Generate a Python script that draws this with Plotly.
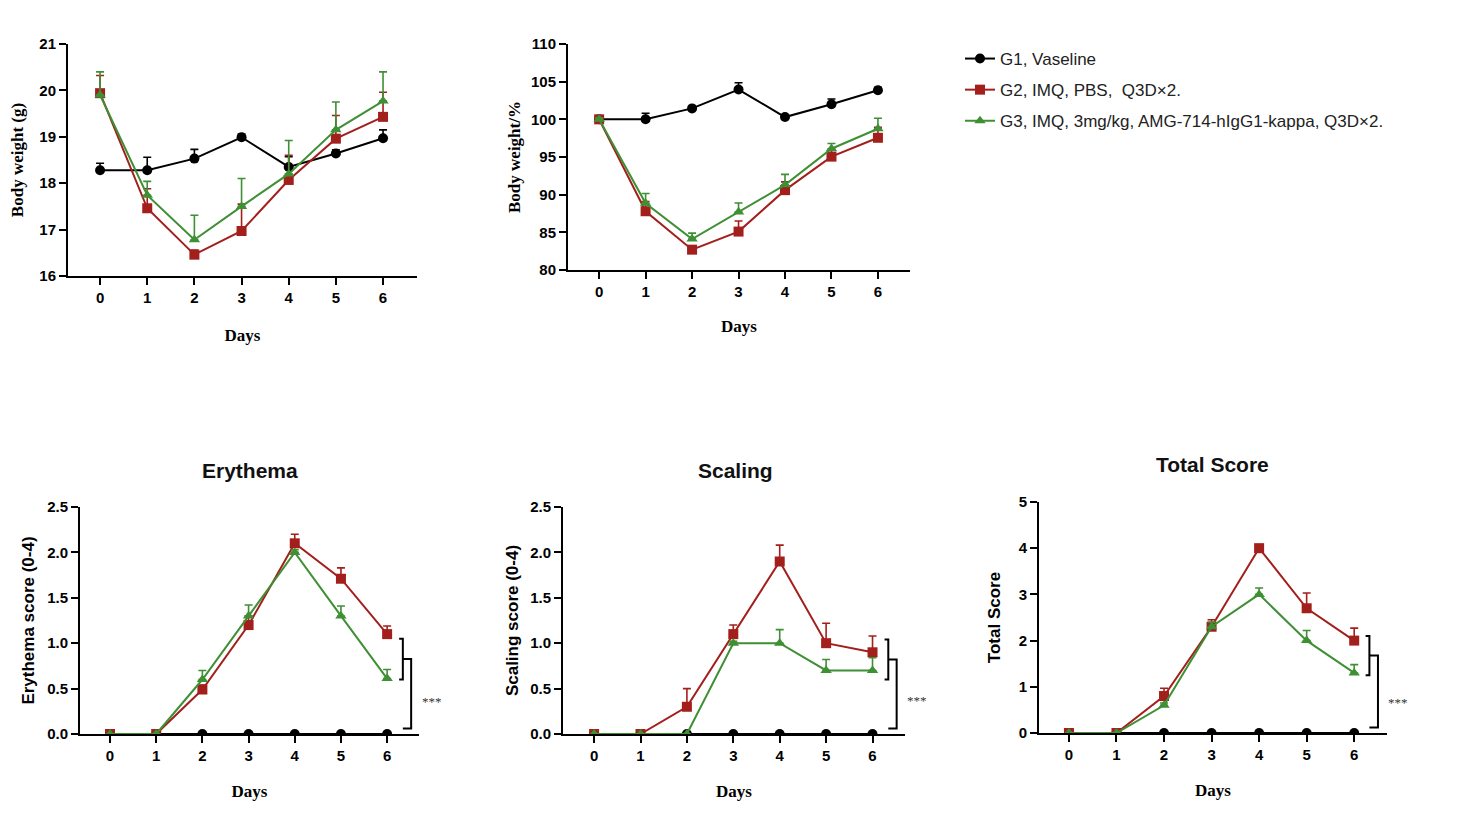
import plotly.graph_objects as go

days = [0, 1, 2, 3, 4, 5, 6]

group_names = ['G1, Vaseline',
               'G2, IMQ, PBS,  Q3D×2.',
               'G3, IMQ, 3mg/kg, AMG-714-hIgG1-kappa, Q3D×2.']

# body weight (g)
bw_g1 = [18.28, 18.28, 18.53, 18.99, 18.35, 18.64, 18.97]
bw_g1_err = [0.15, 0.28, 0.2, 0.07, 0.22, 0.08, 0.18]
bw_g2 = [19.94, 17.46, 16.46, 16.97, 18.07, 18.96, 19.43]
bw_g2_err = [0.38, 0.42, 0.1, 0.58, 0.53, 0.5, 0.53]
bw_g3 = [19.9, 17.74, 16.78, 17.5, 18.2, 19.15, 19.77]
bw_g3_err = [0.5, 0.3, 0.53, 0.6, 0.72, 0.6, 0.63]

# body weight (%)
bwp_g1 = [100.0, 100.0, 101.45, 103.95, 100.3, 102.0, 103.85]
bwp_g1_err = [0.2, 0.8, 0.2, 0.9, 0.2, 0.7, 0.4]
bwp_g2 = [100.0, 87.8, 82.7, 85.1, 90.6, 95.05, 97.55]
bwp_g2_err = [0.2, 1.3, 0.3, 1.4, 1.1, 0.9, 1.4]
bwp_g3 = [100.0, 88.85, 84.1, 87.7, 91.3, 96.1, 98.75]
bwp_g3_err = [0.2, 1.3, 0.8, 1.2, 1.4, 0.7, 1.4]

# erythema score
ery_g1 = [0, 0, 0, 0, 0, 0, 0]
ery_g2 = [0, 0, 0.49, 1.2, 2.1, 1.71, 1.1]
ery_g2_err = [0, 0, 0.05, 0.1, 0.1, 0.12, 0.09]
ery_g3 = [0, 0, 0.6, 1.3, 2.0, 1.3, 0.61]
ery_g3_err = [0, 0, 0.1, 0.12, 0.03, 0.11, 0.1]

# scaling score
sca_g1 = [0, 0, 0, 0, 0, 0, 0]
sca_g2 = [0, 0, 0.3, 1.1, 1.9, 1.0, 0.9]
sca_g2_err = [0, 0, 0.2, 0.1, 0.18, 0.22, 0.18]
sca_g3 = [0, 0, 0, 1.0, 1.0, 0.7, 0.7]
sca_g3_err = [0, 0, 0, 0.02, 0.15, 0.12, 0.14]

# total score
tot_g1 = [0, 0, 0, 0, 0, 0, 0]
tot_g2 = [0, 0, 0.8, 2.3, 4.0, 2.7, 2.0]
tot_g2_err = [0, 0, 0.17, 0.15, 0.08, 0.33, 0.27]
tot_g3 = [0, 0, 0.6, 2.3, 3.0, 2.0, 1.3]
tot_g3_err = [0, 0, 0.05, 0.1, 0.14, 0.22, 0.18]

BLACK = '#000000'
RED = '#a21f1c'
GREEN = '#3f8f34'
colors = [BLACK, RED, GREEN]
symbols = ['circle', 'square', 'triangle-up']

fig = go.Figure()


def add_group(idx, y, err, axis, show):
    xa = 'x' if axis == 1 else 'x%d' % axis
    ya = 'y' if axis == 1 else 'y%d' % axis
    err_y = None
    if err is not None:
        err_y = dict(type='data', symmetric=False, array=err,
                     arrayminus=[0] * len(err), color=colors[idx],
                     thickness=1.6, width=4)
    fig.add_trace(go.Scatter(
        x=days, y=y, mode='lines+markers', name=group_names[idx],
        legendgroup='g%d' % idx, showlegend=show,
        line=dict(color=colors[idx], width=2),
        marker=dict(symbol=symbols[idx], size=10, color=colors[idx]),
        error_y=err_y, xaxis=xa, yaxis=ya))


panels = [
    (1, [bw_g1, bw_g2, bw_g3], [bw_g1_err, bw_g2_err, bw_g3_err]),
    (2, [bwp_g1, bwp_g2, bwp_g3], [bwp_g1_err, bwp_g2_err, bwp_g3_err]),
    (3, [ery_g1, ery_g2, ery_g3], [None, ery_g2_err, ery_g3_err]),
    (4, [sca_g1, sca_g2, sca_g3], [None, sca_g2_err, sca_g3_err]),
    (5, [tot_g1, tot_g2, tot_g3], [None, tot_g2_err, tot_g3_err]),
]
for ax, ys, errs in panels:
    for i in range(3):
        add_group(i, ys[i], errs[i], ax, ax == 1)

W, H = 1458, 820
OFF = 8  # page body margin


def px(a):
    return (a - OFF) / W


def py(a):
    return 1 - (a - OFF) / H


def xd(a, b):
    return [px(a), px(b)]


def yd(top, bottom):
    return [py(bottom), py(top)]


tickfont = dict(family='Liberation Sans, Arial', size=15, color='black', weight='bold')
serif_title = dict(family='Liberation Serif, Times New Roman', size=17, color='black')
sans_title = dict(family='Liberation Sans, Arial', size=17, color='black')

common_x = dict(showline=True, linecolor='black', linewidth=2, ticks='outside',
                ticklen=7, tickwidth=2, tickcolor='black', tickvals=days,
                showgrid=False, zeroline=False, tickfont=tickfont, automargin=False)
common_y = dict(showline=True, linecolor='black', linewidth=2, ticks='outside',
                ticklen=7, tickwidth=2, tickcolor='black', automargin=False,
                showgrid=False, zeroline=False, tickfont=tickfont)

layout = dict(
    template='none',
    width=W, height=H, margin=dict(l=0, r=0, t=0, b=0, pad=0),
    paper_bgcolor='white', plot_bgcolor='white',
    xaxis=dict(common_x, domain=xd(68, 417), range=[-0.68, 6.72], anchor='y',
               title=dict(text='<b>Days</b>', font=serif_title, standoff=24)),
    yaxis=dict(common_y, domain=yd(44, 276), range=[16, 21], dtick=1, anchor='x',
               title=dict(text='<b>Body weight (g)</b>', font=serif_title, standoff=12)),
    xaxis2=dict(common_x, domain=xd(568, 910), range=[-0.67, 6.69], anchor='y2',
                title=dict(text='<b>Days</b>', font=serif_title, standoff=21)),
    yaxis2=dict(common_y, domain=yd(44, 270), range=[80, 110], dtick=5, anchor='x2',
                title=dict(text='<b>Body weight/%</b>', font=serif_title, standoff=6)),
    xaxis3=dict(common_x, domain=xd(80, 419), range=[-0.65, 6.69], anchor='y3',
                title=dict(text='<b>Days</b>', font=serif_title, standoff=22)),
    yaxis3=dict(common_y, domain=yd(507, 734), range=[0, 2.5], dtick=0.5,
                tickformat='.1f', anchor='x3',
                title=dict(text='<b>Erythema score (0-4)</b>', font=sans_title, standoff=8)),
    xaxis4=dict(common_x, domain=xd(563, 905), range=[-0.67, 6.70], anchor='y4',
                title=dict(text='<b>Days</b>', font=serif_title, standoff=22)),
    yaxis4=dict(common_y, domain=yd(507, 734), range=[0, 2.5], dtick=0.5,
                tickformat='.1f', anchor='x4',
                title=dict(text='<b>Scaling score (0-4)</b>', font=sans_title, standoff=7)),
    xaxis5=dict(common_x, domain=xd(1039, 1387), range=[-0.63, 6.69], anchor='y5',
                title=dict(text='<b>Days</b>', font=serif_title, standoff=22)),
    yaxis5=dict(common_y, domain=yd(502, 733), range=[0, 5], dtick=1, anchor='x5',
                title=dict(text='<b>Total Score</b>', font=sans_title, standoff=14)),
    legend=dict(x=px(960), y=py(41), xanchor='left', yanchor='top',
                font=dict(family='Liberation Sans, Arial', size=17, color='#222'),
                tracegroupgap=6, itemwidth=30, bgcolor='rgba(0,0,0,0)'),
    showlegend=True,
)
fig.update_layout(**layout)

# panel titles
titles = [('Erythema', 250, 471), ('Scaling', 735, 471), ('Total Score', 1212, 464)]
for text, tx, ty in titles:
    fig.add_annotation(text='<b>%s</b>' % text, x=px(tx), y=py(ty),
                       xref='paper', yref='paper', showarrow=False,
                       xanchor='center', yanchor='middle',
                       font=dict(family='Liberation Sans, Arial', size=21, color='#111'))

# significance brackets (x in day units, y in score units)
brackets = [
    # axis, x_small, x_large, small (top, bottom), large bottom, star position (px)
    (3, 6.34, 6.52, 1.05, 0.6, 0.06, (432, 701)),
    (4, 6.34, 6.52, 1.04, 0.6, 0.06, (917, 700)),
    (5, 6.32, 6.50, 2.1, 1.25, 0.12, (1398, 702)),
]
for ax, xs, xl, top, bot, lbot, star in brackets:
    xr, yr = 'x%d' % ax, 'y%d' % ax
    mid = (top + bot) / 2
    line = dict(color='black', width=2)
    fig.add_shape(type='path', xref=xr, yref=yr, line=line,
                  path='M %f,%f L %f,%f L %f,%f L %f,%f' % (xs - 0.08, top, xs, top, xs, bot, xs - 0.08, bot))
    fig.add_shape(type='path', xref=xr, yref=yr, line=line,
                  path='M %f,%f L %f,%f L %f,%f L %f,%f' % (xs, mid, xl, mid, xl, lbot, xl - 0.18, lbot))
    fig.add_annotation(text='***', x=px(star[0]), y=py(star[1]),
                       xref='paper', yref='paper', showarrow=False,
                       xanchor='center', yanchor='middle',
                       font=dict(family='Liberation Serif, Times New Roman', size=13, color='#333333'))

fig.write_html("out.html")
